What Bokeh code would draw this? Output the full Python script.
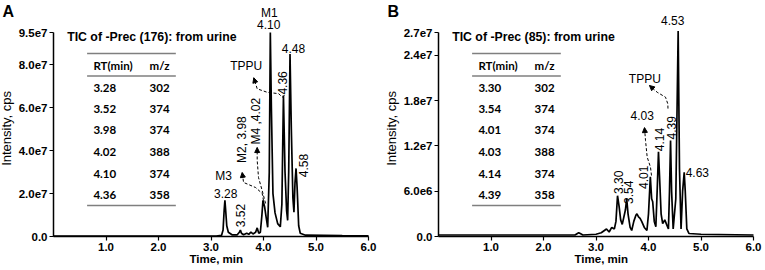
import numpy as np
from bokeh.plotting import figure
from bokeh.layouts import row
from bokeh.models import Label, FixedTicker, Arrow, NormalHead
from bokeh.embed import file_html
from bokeh.resources import INLINE

# ---------------- data ----------------
time_a = [0.00, 3.10, 3.20, 3.23, 3.25, 3.265, 3.28, 3.30, 3.33, 3.40, 3.50, 3.54, 3.56, 3.58,
          3.62, 3.68, 3.72, 3.76, 3.80, 3.85, 3.88, 3.91, 3.94, 3.97, 3.99, 4.02, 4.05, 4.08,
          4.11, 4.13, 4.15, 4.18, 4.22, 4.27, 4.32, 4.35, 4.38, 4.41, 4.44, 4.46, 4.48, 4.505,
          4.53, 4.56, 4.58, 4.60, 4.62, 4.64, 4.67, 4.70, 4.80, 5.50, 6.00]
intensity_a_e7 = [0.02, 0.02, 0.05, 0.30, 1.20, 1.68, 1.20, 0.50, 0.20, 0.08, 0.08, 0.20, 0.30, 0.15,
                  0.08, 0.15, 0.10, 0.20, 0.12, 0.20, 0.40, 0.15, 0.20, 1.00, 1.68, 1.40, 0.90, 0.43,
                  3.00, 9.50, 6.00, 2.00, 1.10, 0.60, 0.45, 1.50, 6.57, 3.00, 1.20, 0.75, 3.00, 8.50,
                  5.00, 1.80, 1.13, 2.50, 3.17, 2.30, 0.50, 0.15, 0.06, 0.04, 0.03]

time_b = [0.00, 2.60, 2.67, 2.70, 2.75, 3.00, 3.10, 3.20, 3.25, 3.30, 3.35, 3.38, 3.41, 3.44,
          3.47, 3.50, 3.56, 3.585, 3.61, 3.65, 3.68, 3.72, 3.76, 3.78, 3.81, 3.84, 3.87, 3.92,
          3.97, 4.00, 4.035, 4.06, 4.08, 4.11, 4.14, 4.17, 4.19, 4.21, 4.24, 4.27, 4.31, 4.35,
          4.38, 4.40, 4.42, 4.44, 4.47, 4.52, 4.565, 4.59, 4.62, 4.65, 4.68, 4.70, 4.73, 4.77,
          5.00, 6.00]
intensity_b_e7 = [0.02, 0.02, 0.05, 0.04, 0.02, 0.03, 0.05, 0.10, 0.06, 0.12, 0.10, 0.20, 0.54, 0.40,
                  0.22, 0.16, 0.35, 0.50, 0.30, 0.12, 0.08, 0.20, 0.28, 0.30, 0.26, 0.24, 0.20, 0.12,
                  0.08, 0.30, 0.79, 0.50, 0.46, 0.20, 0.13, 0.70, 1.12, 0.80, 0.30, 0.17, 0.22, 0.15,
                  0.10, 0.60, 1.27, 0.60, 0.10, 0.50, 2.72, 0.90, 0.10, 0.60, 0.85, 0.60, 0.10, 0.04,
                  0.03, 0.02]

x_ticks = [1.0, 2.0, 3.0, 4.0, 5.0, 6.0]
x_tick_labels = ["1.0", "2.0", "3.0", "4.0", "5.0", "6.0"]
y_ticks_a = [0, 2e7, 4e7, 6e7, 8e7, 9.5e7]
y_tick_labels_a = ["0.0", "2.0e7", "4.0e7", "6.0e7", "8.0e7", "9.5e7"]
y_ticks_b = [0, 6e6, 1.2e7, 1.8e7, 2.4e7, 2.7e7]
y_tick_labels_b = ["0.0", "6.0e6", "1.2e7", "1.8e7", "2.4e7", "2.7e7"]

title_a = "TIC of -Prec (176): from urine"
title_b = "TIC of -Prec (85): from urine"
table_header = ["RT(min)", "m/z"]
rt_a = ["3.28", "3.52", "3.98", "4.02", "4.10", "4.36"]
mz_a = ["302", "374", "374", "388", "374", "358"]
rt_b = ["3.30", "3.54", "4.01", "4.03", "4.14", "4.39"]
mz_b = ["302", "374", "374", "388", "374", "358"]

# peak annotations: (text, time, fraction of y max, rotated)
peaks_a = [("M1", 4.11, 1.098, False), ("4.10", 4.10, 1.040, False), ("4.48", 4.57, 0.920, False),
           ("TPPU", 3.67, 0.838, False), ("M3", 3.24, 0.299, False), ("3.28", 3.28, 0.212, False),
           ("3.52", 3.56, 0.103, True), ("M2, 3.98", 3.59, 0.475, True), ("M4 ,4.02", 3.86, 0.565, True),
           ("4.36", 4.36, 0.753, True), ("4.58", 4.77, 0.348, True)]
peaks_b = [("4.53", 4.46, 1.059, False), ("TPPU", 3.93, 0.773, False), ("4.03", 3.88, 0.593, False),
           ("4.39", 4.43, 0.533, True), ("4.14", 4.20, 0.475, True), ("4.01", 3.91, 0.290, True),
           ("3.54", 3.62, 0.217, True), ("3.30", 3.42, 0.266, True), ("4.63", 4.93, 0.315, False)]

# dashed leader paths (time, fraction of y max), ending at the arrow head
arrows_a = [
    ([4.00, 3.975, 3.85, 3.62, 3.594], [0.176, 0.211, 0.240, 0.265, 0.314]),
    ([4.04, 3.975, 3.905, 3.88, 3.88], [0.162, 0.225, 0.289, 0.373, 0.436]),
    ([4.40, 4.356, 4.29, 4.07, 3.88, 3.815], [0.691, 0.683, 0.700, 0.707, 0.724, 0.778]),
]
arrows_b = [
    ([4.371, 4.368, 4.324, 4.166, 4.019], [0.627, 0.650, 0.683, 0.707, 0.740]),
    ([4.057, 4.038, 3.975, 3.943, 3.924], [0.299, 0.340, 0.389, 0.471, 0.534]),
]

FONT = "Liberation Sans"
TFONT = "Lato"

# geometry (pixels): plot area 204 px tall, 52.5 px per minute
PX_PER_MIN = 52.5
AREA_H = 204.0
AREA_TOP = 32.0
HEIGHT = 269


def make_panel(letter, t, inten_e7, ymax, yticks, ylabels, title, rts, mzs, peaks, arrows,
               width, axis_px):
    # frame fills the whole figure; axes are pinned at x=0 / y=0
    x_lo = -axis_px / PX_PER_MIN
    x_hi = (width - axis_px) / PX_PER_MIN
    y_hi = ymax * (AREA_TOP + AREA_H) / AREA_H
    y_lo = -ymax * (HEIGHT - AREA_TOP - AREA_H) / AREA_H
    p = figure(width=width, height=HEIGHT, x_range=(x_lo, x_hi), y_range=(y_lo, y_hi),
               output_backend="svg", toolbar_location=None,
               min_border_left=0, min_border_right=0, min_border_top=0, min_border_bottom=0)
    p.outline_line_color = None
    p.grid.visible = False
    p.background_fill_color = "white"
    p.border_fill_color = "white"

    y = np.array(inten_e7) * 1e7
    p.line(t, y, line_color="black", line_width=1.7)

    for ax in (p.xaxis[0], p.yaxis[0]):
        ax.fixed_location = 0
        ax.axis_line_color = "black"
        ax.axis_line_width = 1.5
        ax.major_tick_line_color = "black"
        ax.major_tick_line_width = 1.2
        ax.major_tick_in = 0
        ax.major_tick_out = 4
        ax.minor_tick_line_color = None
        ax.major_label_text_font = FONT
        ax.major_label_text_font_style = "bold"
        ax.major_label_text_font_size = "11.5px"
        ax.major_label_text_color = "black"
        ax.major_label_standoff = 2
    p.xaxis.bounds = (0, 6)
    p.yaxis.bounds = (0, ymax)
    p.xaxis.ticker = FixedTicker(ticks=x_ticks)
    p.xaxis.major_label_overrides = {k: v for k, v in zip(x_ticks, x_tick_labels)}
    p.yaxis.ticker = FixedTicker(ticks=yticks)
    p.yaxis.major_label_overrides = {k: v for k, v in zip(yticks, ylabels)}

    # axis titles
    p.add_layout(Label(x=-0.89, y=ymax * 0.53, text="Intensity, cps",
                       angle=np.pi / 2, text_align="center", text_baseline="middle",
                       text_font=FONT, text_font_size="13px", text_color="black"))
    p.add_layout(Label(x=3.1, y=-ymax * 0.108, text="Time, min",
                       text_align="center", text_baseline="middle",
                       text_font=FONT, text_font_style="bold", text_font_size="11.5px",
                       text_color="black"))
    # panel letter
    p.add_layout(Label(x=x_lo, y=ymax * 1.103, x_offset=2, text=letter,
                       text_align="left", text_baseline="middle",
                       text_font=FONT, text_font_style="bold", text_font_size="16px",
                       text_color="black"))

    # title and table
    p.add_layout(Label(x=0.26, y=ymax * 0.98, text=title, text_align="left",
                       text_baseline="middle", text_font=FONT, text_font_style="bold",
                       text_font_size="12.3px", text_color="black"))
    x0, x1 = 0.64, 2.33
    col1, col2 = 0.76, 1.83
    line_fracs = [0.897, 0.787, 0.152]
    p.segment(x0=[x0] * 3, x1=[x1] * 3, y0=[f * ymax for f in line_fracs],
              y1=[f * ymax for f in line_fracs], line_color="#7f7f7f", line_width=1.5)
    row_fracs = [0.838, 0.729, 0.624, 0.520, 0.413, 0.307, 0.204]
    col_a = [table_header[0]] + rts
    col_b = [table_header[1]] + mzs
    for f, a, b in zip(row_fracs, col_a, col_b):
        for xx, txt in ((col1, a), (col2, b)):
            p.add_layout(Label(x=xx, y=f * ymax, text=txt, text_align="left",
                               text_baseline="middle", text_font=TFONT,
                               text_font_style="bold", text_font_size="11.5px",
                               text_color="black"))

    # peak labels
    for txt, xx, f, rot in peaks:
        p.add_layout(Label(x=xx, y=f * ymax, text=txt, angle=(np.pi / 2 if rot else 0),
                           text_align="center", text_baseline="middle", text_font=FONT,
                           text_font_size="12px", text_color="black"))

    # dashed leaders with arrow heads
    for xs, fs in arrows:
        ys = [f * ymax for f in fs]
        p.line(xs, ys, line_color="black", line_width=1, line_dash="3 2")
        p.add_layout(Arrow(end=NormalHead(size=5, fill_color="black", line_color="black"),
                           x_start=xs[-2], y_start=ys[-2], x_end=xs[-1], y_end=ys[-1],
                           line_alpha=0))
    return p


pa = make_panel("A", time_a, intensity_a_e7, 9.5e7, y_ticks_a, y_tick_labels_a, title_a,
                rt_a, mz_a, peaks_a, arrows_a, width=385, axis_px=53)
pb = make_panel("B", time_b, intensity_b_e7, 2.7e7, y_ticks_b, y_tick_labels_b, title_b,
                rt_b, mz_b, peaks_b, arrows_b, width=379, axis_px=53)

layout = row(pa, pb)
open("out.html", "w").write(file_html(layout, INLINE))
